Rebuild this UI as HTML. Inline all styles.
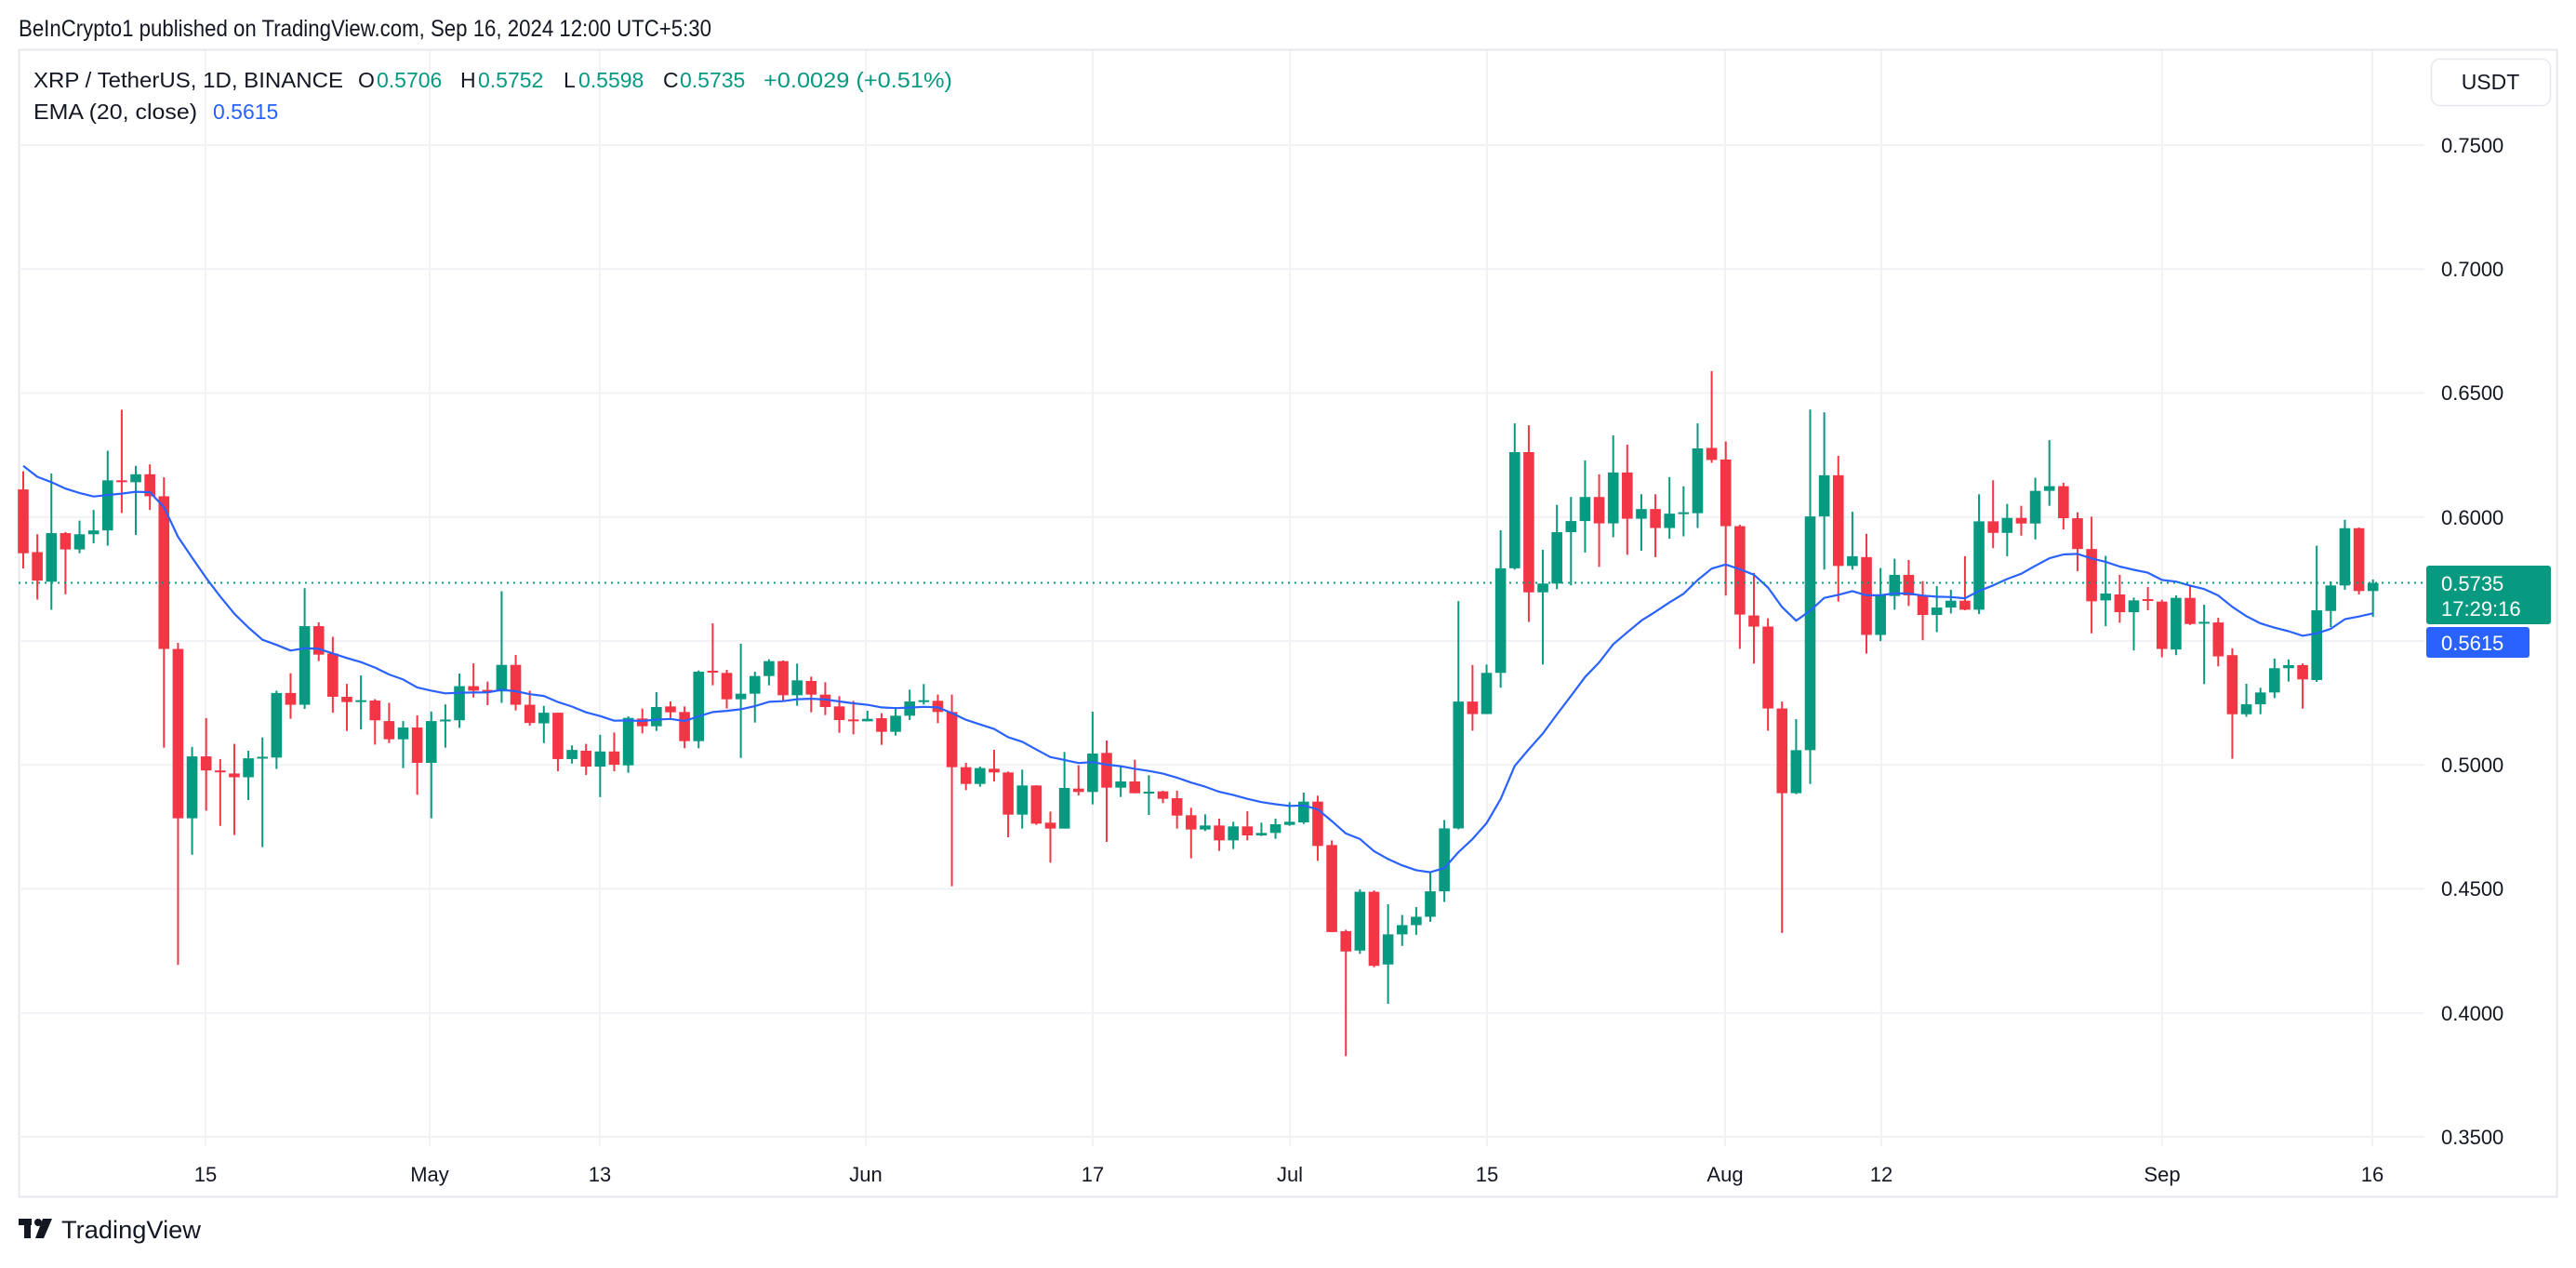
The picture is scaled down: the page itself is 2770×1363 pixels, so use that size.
<!DOCTYPE html>
<html><head><meta charset="utf-8">
<style>
html,body{margin:0;padding:0;background:#fff;}
body{width:2770px;height:1358px;overflow:hidden;font-family:"Liberation Sans",sans-serif;}
svg text{font-family:"Liberation Sans",sans-serif;}
</style></head>
<body>
<svg id="c" width="2770" height="1358" viewBox="0 0 2770 1358" xmlns="http://www.w3.org/2000/svg">
<rect x="0" y="0" width="2770" height="1358" fill="#fff"/>
<text x="20" y="39" font-size="25" fill="#131722" textLength="745" lengthAdjust="spacingAndGlyphs">BeInCrypto1 published on TradingView.com, Sep 16, 2024 12:00 UTC+5:30</text>
<rect x="20.5" y="53.5" width="2729" height="1233" fill="none" stroke="#e6e8ee" stroke-width="2"/>
<g id="grid" stroke="#f0f2f6" stroke-width="2"></g>
<g id="candles"></g>
<polyline id="ema" fill="none" stroke="#2962ff" stroke-width="2.2" stroke-linejoin="round"/>
<line x1="20" y1="626.5" x2="2607" y2="626.5" stroke="#089981" stroke-width="2" stroke-dasharray="2,5"/>
<g font-size="23" fill="#131722">
<text x="36" y="94" textLength="333" lengthAdjust="spacingAndGlyphs">XRP / TetherUS, 1D, BINANCE</text>
<text x="385" y="94">O</text><text x="405" y="94" fill="#089981">0.5706</text>
<text x="495" y="94">H</text><text x="514" y="94" fill="#089981">0.5752</text>
<text x="606" y="94">L</text><text x="622" y="94" fill="#089981">0.5598</text>
<text x="713" y="94">C</text><text x="731" y="94" fill="#089981">0.5735</text>
<text x="821" y="94" fill="#089981" textLength="203" lengthAdjust="spacingAndGlyphs">+0.0029 (+0.51%)</text>
<text x="36" y="128" textLength="176" lengthAdjust="spacingAndGlyphs">EMA (20, close)</text>
<text x="229" y="128" fill="#2962ff">0.5615</text>
</g>
<rect x="2614.5" y="63.5" width="128" height="50" rx="9" fill="#fff" stroke="#e6e8ee" stroke-width="1.5"/>
<text x="2678" y="96" font-size="23" fill="#131722" text-anchor="middle">USDT</text>
<g font-size="22" fill="#131722">
<text x="2625" y="164">0.7500</text>
<text x="2625" y="297">0.7000</text>
<text x="2625" y="430">0.6500</text>
<text x="2625" y="564">0.6000</text>
<text x="2625" y="830">0.5000</text>
<text x="2625" y="963">0.4500</text>
<text x="2625" y="1097">0.4000</text>
<text x="2625" y="1230">0.3500</text>
</g>
<rect x="2609" y="608" width="134" height="63" rx="3" fill="#089981"/>
<text x="2625" y="635" font-size="22" fill="#fff">0.5735</text>
<text x="2625" y="662" font-size="22" fill="#fff">17:29:16</text>
<rect x="2609" y="674" width="111" height="33" rx="3" fill="#2962ff"/>
<text x="2625" y="699" font-size="22" fill="#fff">0.5615</text>
<g font-size="22" fill="#131722" text-anchor="middle">
<text x="221" y="1270">15</text>
<text x="462" y="1270">May</text>
<text x="645" y="1270">13</text>
<text x="931" y="1270">Jun</text>
<text x="1175" y="1270">17</text>
<text x="1387" y="1270">Jul</text>
<text x="1599" y="1270">15</text>
<text x="1855" y="1270">Aug</text>
<text x="2023" y="1270">12</text>
<text x="2325" y="1270">Sep</text>
<text x="2551" y="1270">16</text>
</g>
<g fill="#131722">
<rect x="20" y="1310" width="14" height="7"/>
<rect x="26" y="1310" width="7" height="21"/>
<circle cx="41" cy="1314" r="4"/>
<polygon points="46,1310 56,1310 47,1331 38,1331"/>
</g>
<text x="66" y="1331" font-size="27" fill="#131722" textLength="150" lengthAdjust="spacingAndGlyphs">TradingView</text>
</svg>
<script>
(function(){
var NS="http://www.w3.org/2000/svg";
var grid=document.getElementById('grid');
function ln(x1,y1,x2,y2){var l=document.createElementNS(NS,'line');l.setAttribute('x1',x1);l.setAttribute('y1',y1);l.setAttribute('x2',x2);l.setAttribute('y2',y2);grid.appendChild(l);}
for(var i=0;i<9;i++){var y=156+i*133.25;ln(20,y,2607,y);}
[221,462,645,931,1175,1387,1599,1855,2023,2325,2551].forEach(function(x){ln(x,54,x,1232);});
// sections: [offset, divisor, data(o,h,l,c)]
var s6=[[260,212,468,428],[425,378,550,500],[503,218,577,375],[375,372,536,418],[418,342,428,378],[378,314,402,368],[368,158,408,236],[236,50,322,238],[241,198,380,220],[220,194,314,278],[278,228,940,680],[680,664,1512,1126],[1126,938,1222,963],[963,862,1106,1000],[1000,970,1146,1005],[1008,930,1170,1018],[1018,948,1078,968],[966,913,1202,964],[966,790,996,796],[796,744,864,827],[827,520,838,620],[620,610,712,695],[692,648,848,806],[806,772,896,820],[816,750,892,815],[816,812,932,868],[870,822,928,918],[918,870,994,887],[887,855,1064,980],[980,845,1126,870],[868,826,940,866],[868,745,888,778],[778,718,808,790],[788,766,828,792],[792,528,822,722],[722,696,842,827],[827,790,882,875],[876,830,928,848],[848,848,1002,970],[970,934,982,946],[948,930,1012,990],[990,906,1070,950],[950,900,1002,985]];
var s7=[[608,450,632,455],[457,425,505,482],[482,372,497,420],[418,402,455,437],[436,418,553,530],[530,302,553,306],[303,150,350,306],[310,300,425,395],[395,216,584,377],[377,306,470,320],[320,266,350,272],[272,270,402,382],[382,280,416,334],[336,322,437,380],[380,340,446,420],[418,385,503,462],[460,400,508,465],[466,432,466,458],[456,440,542,500],[500,420,512,448],[448,364,462,402],[400,346,412,398],[400,380,472,436],[436,380,998,614],[614,600,688,668],[668,612,677,617],[619,558,660,631],[631,628,840,767],[767,622,812,673],[673,672,800,796],[793,757,922,812],[812,565,812,681],[683,608,705,694],[694,435,734,570],[568,528,855,680],[680,608,710,660],[660,590,698,698],[694,640,768,693],[692,690,730,716],[714,690,812,770],[769,745,908,815],[815,766,820,802],[802,780,884,850],[850,790,878,805],[805,756,850,834],[834,793,836,826],[826,780,845,798],[800,727,803,790],[792,696,797,725],[725,706,916,868]];
var s8=[[1062,1052,1250,1250],[1248,1245,1518,1292],[1290,1158,1297,1163],[1163,1160,1326,1323],[1320,1190,1405,1255],[1255,1213,1280,1235],[1235,1196,1256,1217],[1217,1120,1228,1162],[1162,1008,1185,1026],[1026,535,1028,752],[752,673,815,779],[779,672,779,690],[690,382,722,464],[464,151,467,213],[213,155,580,516],[516,424,672,497],[497,327,509,386],[386,310,501,362],[362,231,430,310],[310,261,461,367],[367,177,397,257],[257,197,435,357],[357,304,426,336],[336,304,440,377],[377,267,400,346],[344,287,395,343],[345,151,377,205],[204,38,236,230],[229,190,523,373],[373,370,638,564],[566,474,670,590],[590,572,815,767],[767,752,1252,950],[950,790,952,857],[857,121,930,352],[352,127,467,263],[263,221,536,459],[459,342,467,438]];
var s9=[[475,400,785,725],[725,510,745,597],[600,480,644,532],[532,484,632,598],[598,552,742,661],[661,568,716,637],[637,580,656,615],[615,472,646,644],[644,273,658,360],[360,228,446,397],[397,304,472,349],[349,310,406,367],[367,220,418,262],[262,99,310,247],[247,236,386,350],[350,331,520,449],[449,345,720,617],[614,471,697,592],[595,532,686,652],[652,605,775,614],[610,571,646,612],[618,612,797,770],[772,598,790,606],[606,567,693,690],[684,628,883,683],[685,670,826,794],[790,768,1123,980],[980,882,988,948],[948,895,980,910],[910,801,928,832],[832,804,875,822],[822,817,962,868],[870,438,876,646],[648,553,700,566],[566,355,580,382],[382,380,595,584],[584,547,667,558]];
var data=[];
function add(arr,off,div){arr.forEach(function(r){data.push(r.map(function(v){return off+v/div;}));});}
add(s6,420,2.45);add(s7,620,3);add(s8,380,2.01);add(s9,440,2.99);
var g=document.getElementById('candles');
var ema=500.8,k=2/21,pts=[];
for(var i=0;i<data.length;i++){
 var d=data[i],o=d[0],h=d[1],l=d[2],c=d[3];
 var x=25+i*15.13;
 var up=c<=o; // smaller y = higher price
 var col=up?'#089981':'#f23645';
 var w=document.createElementNS(NS,'rect');
 w.setAttribute('x',(x-1).toFixed(2));w.setAttribute('y',h.toFixed(2));w.setAttribute('width',2);w.setAttribute('height',Math.max(1,l-h).toFixed(2));w.setAttribute('fill',col);g.appendChild(w);
 var t=Math.min(o,c),bh=Math.max(2,Math.abs(o-c));
 var b=document.createElementNS(NS,'rect');
 b.setAttribute('x',(x-5.8).toFixed(2));b.setAttribute('y',t.toFixed(2));b.setAttribute('width',11.6);b.setAttribute('height',bh.toFixed(2));b.setAttribute('fill',col);g.appendChild(b);
 if(i>0) ema=ema+k*(c-ema);
 pts.push(x.toFixed(1)+','+ema.toFixed(1));
}
document.getElementById('ema').setAttribute('points',pts.join(' '));
})();
</script>
</body></html>
